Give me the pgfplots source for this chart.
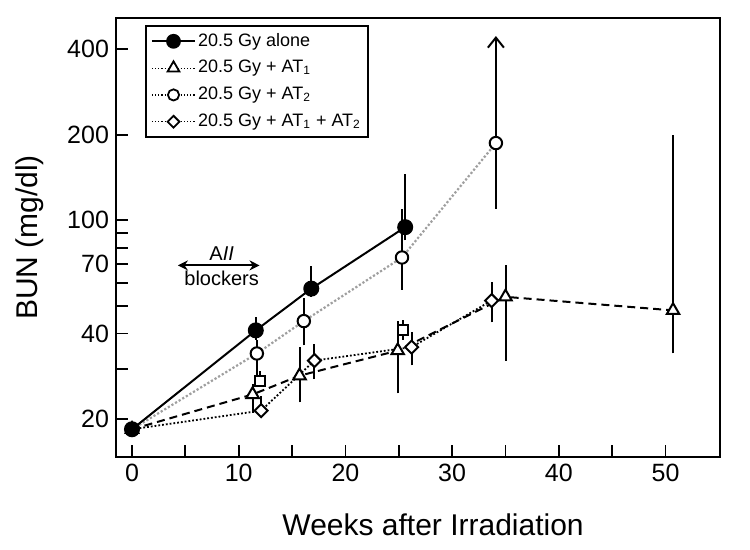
\documentclass[border=0pt]{standalone}
\usepackage{pgfplots}
\pgfplotsset{compat=1.18}
\usepackage{fontspec}
\setmainfont{Liberation Sans}
\usetikzlibrary{arrows.meta}
\begin{document}
\begin{tikzpicture}
\path[use as bounding box] (-58pt,-46.5pt) rectangle (317pt,228.5pt);
\begin{axis}[
  at={(0,0)}, anchor=south west,
  scale only axis, width=302pt, height=219.5pt,
  xmin=-1.5, xmax=55.1, ymode=log, ymin=14.7, ymax=515,
  axis line style={line width=1pt},
  tick style={line width=0.9pt, black},
  major tick length=6pt, minor tick length=6pt,
  tick pos=left, tick align=inside,
  xtick={0,10,20,30,40,50}, xticklabels={0,10,20,30,40,50},
  minor xtick={5,15,25,35,45},
  ytick={20,40,70,100,200,400}, yticklabels={20,40,70,100,200,400},
  minor ytick={30,50,60,80,90},
  /pgf/number format/assume math mode=true,
  tick label style={font=\fontsize{12.5}{14}\selectfont},
  xlabel={Weeks after Irradiation}, ylabel={BUN (mg/dl)},
  label style={font=\fontsize{15}{18}\selectfont},
  xlabel style={at={(axis description cs:0.525,-0.155)}, anchor=center},
  ylabel style={at={(axis description cs:-0.142,0.5)}, anchor=center},
  legend style={at={(axis description cs:0.048,0.984)}, anchor=north west,
    draw=black, line width=0.9pt, font=\fontsize{9}{11}\selectfont,
    cells={anchor=west}, row sep=3pt, inner sep=2.5pt,
    nodes={inner sep=1pt, text height=6.6pt, text depth=1.8pt}},
  legend image code/.code={\draw[mark repeat=2,mark phase=2] plot coordinates {(0cm,0cm) (0.38cm,0cm) (0.76cm,0cm)};},
]
% legend
\addlegendimage{black, line width=1pt, mark=*, mark size=3.2pt, mark options={solid}}
\addlegendentry{20.5 Gy alone}
\addlegendimage{black, densely dotted, line width=0.6pt, mark=triangle*, mark size=3.4pt, mark options={solid, fill=white, line width=0.9pt}}
\addlegendentry{20.5 Gy + AT\textsubscript{1}}
\addlegendimage{black, densely dotted, line width=0.6pt, mark=*, mark size=2.8pt, mark options={solid, fill=white, line width=0.9pt}}
\addlegendentry{20.5 Gy + AT\textsubscript{2}}
\addlegendimage{black, densely dotted, line width=0.6pt, mark=square*, mark size=2.1pt, mark options={solid, fill=white, rotate=45, line width=0.9pt}}
\addlegendentry{20.5 Gy + AT\textsubscript{1} + AT\textsubscript{2}}

% error bars
\addplot[black, line width=1pt, mark=none, unbounded coords=jump, forget plot] coordinates {
 (11.6,38) (11.6,45.7) (11.6,nan)
 (16.8,53.8) (16.8,68.8) (16.8,nan)
 (25.6,85) (25.6,145) (25.6,nan)
 (11.7,28) (11.7,38) (11.7,nan)
 (16.1,36.3) (16.1,53.2) (16.1,nan)
 (25.3,56.9) (25.3,110) (25.3,nan)
 (34.1,110) (34.1,187) (34.1,nan)
 (11.3,21) (11.3,26.5) (11.3,nan)
 (15.7,22.9) (15.7,35.8) (15.7,nan)
 (24.9,24.6) (24.9,44.4) (24.9,nan)
 (35.0,32.1) (35.0,69.4) (35.0,nan)
 (50.7,34) (50.7,199) (50.7,nan)
 (12.1,20.6) (12.1,24) (12.1,nan)
 (17.1,27.6) (17.1,36.8) (17.1,nan)
 (26.2,30.9) (26.2,40.5) (26.2,nan)
 (33.7,43.7) (33.7,60.5) (33.7,nan)
 (12.0,26) (12.0,29.5) (12.0,nan)
 (25.4,38) (25.4,44.6)
};
\addplot[black, line width=1pt, mark=none, -{Straight Barb[length=5pt,width=8pt]}, forget plot] coordinates {(34.1,187) (34.1,445)};

% open circle series (AT2)
\addplot[gray!75, densely dotted, line width=1.1pt, mark=*, mark size=3.1pt,
  mark options={solid, draw=black, fill=white, line width=1pt}, forget plot] coordinates {
 (0,18.4) (11.7,34) (16.1,44.2) (25.3,74) (34.1,187)};
% triangle series (AT1)
\addplot[black, dash pattern=on 4pt off 2.5pt, line width=1pt, mark=triangle*, mark size=3.6pt,
  mark options={solid, fill=white, line width=1pt}, forget plot] coordinates {
 (0,18.4) (11.3,24.4) (15.7,28.4) (24.9,34.8) (35.0,53.8) (50.7,48.2)};
% diamond series (AT1+AT2)
\addplot[black, densely dotted, line width=0.9pt, mark=square*, mark size=2.3pt,
  mark options={solid, fill=white, rotate=45, line width=1pt}, forget plot] coordinates {
 (0,18.4) (12.1,21.4) (17.1,32.1) (26.2,35.8) (33.7,52.2)};
% squares
\addplot[black, only marks, mark=square*, mark size=2.5pt,
  mark options={solid, fill=white, line width=1pt}, forget plot] coordinates {
 (12.0,27.3) (25.4,41.2)};
% filled circle series (alone)
\addplot[black, line width=1pt, mark=*, mark size=3.5pt, mark options={solid}, forget plot] coordinates {
 (0,18.4) (11.6,41) (16.8,57.5) (25.6,94.6)};

% AII blockers annotation
\draw[{Stealth[length=5pt,width=5pt]}-{Stealth[length=5pt,width=5pt]}, line width=1pt] (axis cs:4.3,69.4) -- (axis cs:11.95,69.4);
\node[font=\fontsize{10}{12}\selectfont, anchor=center] at (axis cs:8.4,76.5) {A\textit{II}};
\node[font=\fontsize{10}{12}\selectfont, anchor=center] at (axis cs:8.4,62.4) {blockers};
\end{axis}
\end{tikzpicture}
\end{document}
